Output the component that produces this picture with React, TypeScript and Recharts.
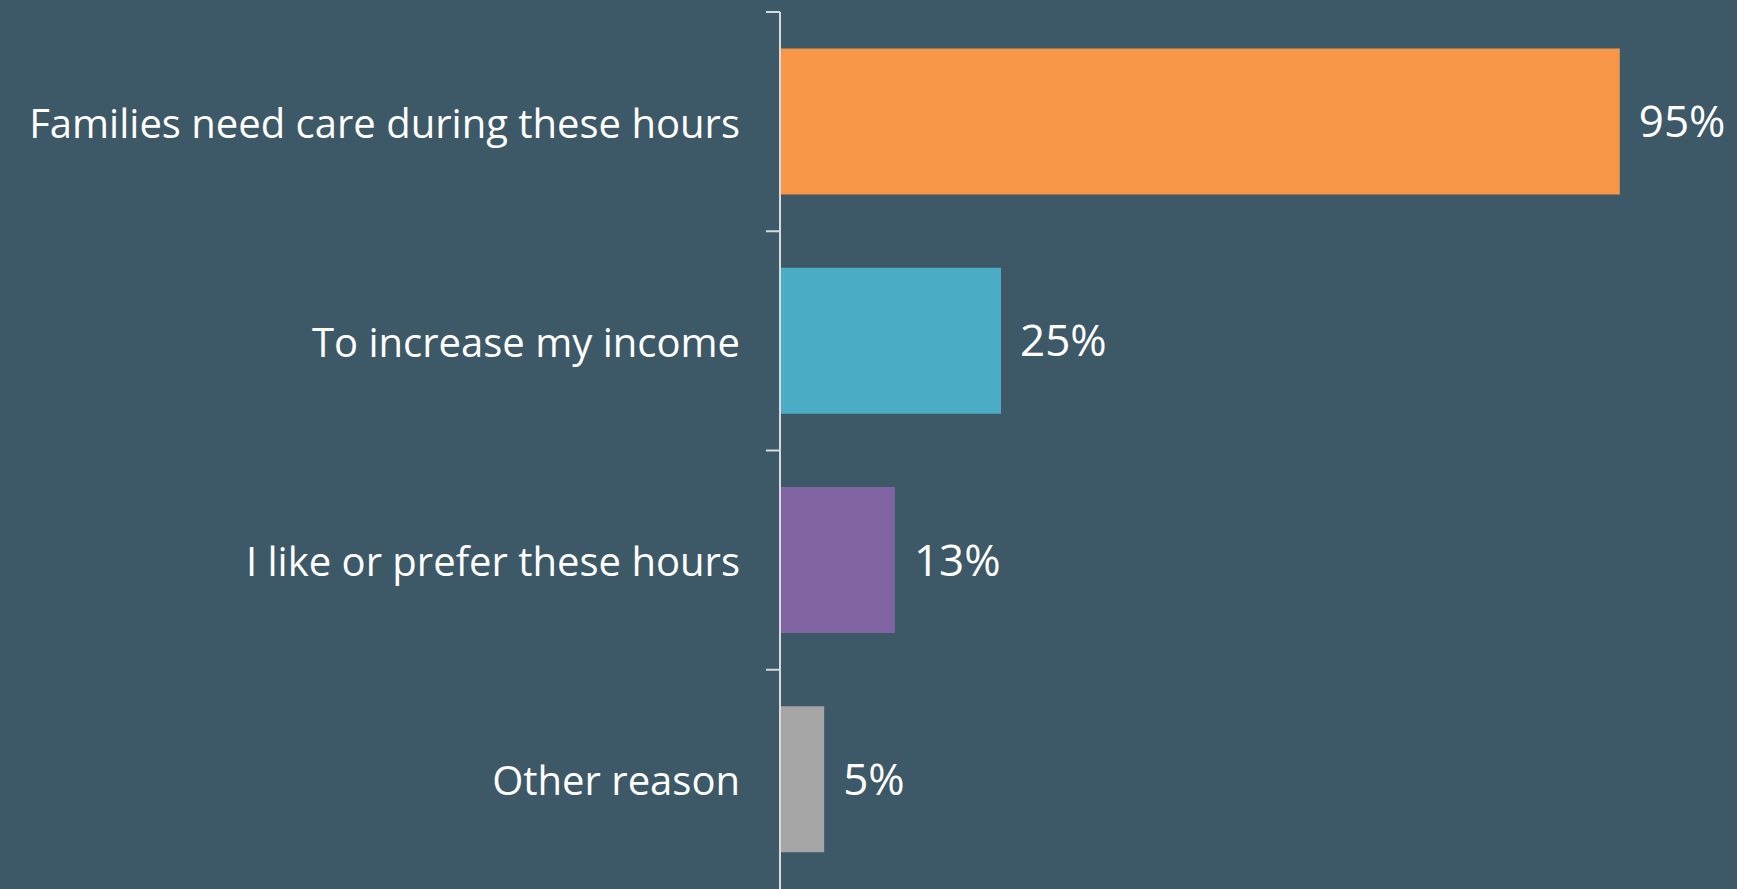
import React from 'react';
import { BarChart, Bar, XAxis, YAxis, Cell, LabelList } from 'recharts';

const categories = [
  'Families need care during these hours',
  'To increase my income',
  'I like or prefer these hours',
  'Other reason',
];
const shares = [95, 25, 13, 5];
const colors = ['#f79646', '#4bacc6', '#8064a2', '#a5a5a5'];

const W = 1737;
const H = 889;
const AXIS_X = 780;
const TOP = 12;
const BAND = (H - TOP) / categories.length;
const BG = '#3d5866';
const AXIS_COLOR = '#d9d9d9';
const FONT = '"Open Sans", Lato, sans-serif';

const data = categories.map((name, i) => ({ name, value: shares[i] }));

const CategoryTick = (props: any) => {
  const { y, payload } = props;
  const edge = y - BAND / 2;
  return (
    <g>
      <line x1={AXIS_X - 14} x2={AXIS_X} y1={edge} y2={edge} stroke={AXIS_COLOR} strokeWidth={2} />
      <text
        x={AXIS_X - 40}
        y={y}
        dy={16}
        textAnchor="end"
        fill="#ffffff"
        fontSize={40}
        fontFamily={FONT}
      >
        {payload.value}
      </text>
    </g>
  );
};

const App: React.FC = () => {
  return (
    <div style={{ position: 'fixed', top: 0, left: 0, width: W, height: H, background: BG }}>
      <BarChart
        width={W}
        height={H}
        data={data}
        layout="vertical"
        margin={{ top: TOP, right: 73, bottom: 0, left: 0 }}
        barCategoryGap="16.7%"
      >
        <XAxis type="number" domain={[0, 100]} hide />
        <YAxis
          type="category"
          dataKey="name"
          width={AXIS_X}
          axisLine={{ stroke: AXIS_COLOR, strokeWidth: 2 }}
          tickLine={false}
          tick={<CategoryTick />}
          interval={0}
        />
        <Bar dataKey="value" isAnimationActive={false}>
          {data.map((d, i) => (
            <Cell key={d.name} fill={colors[i]} />
          ))}
          <LabelList
            dataKey="value"
            position="right"
            offset={19}
            fill="#ffffff"
            fontSize={44}
            fontFamily={FONT}
            formatter={(v: any) => `${v}%`}
          />
        </Bar>
      </BarChart>
    </div>
  );
};

export default App;
